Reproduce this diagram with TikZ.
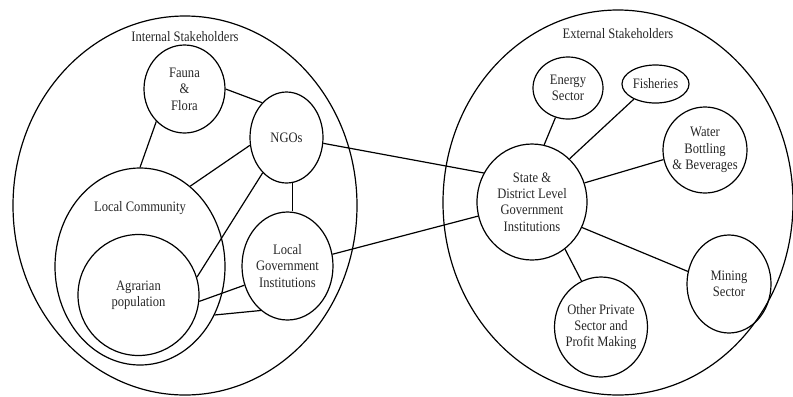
\documentclass[tikz,border=0pt]{standalone}
\usepackage{fontspec}
\setmainfont{Liberation Serif}[FakeStretch=0.87]
\usepackage{tikz}
\usetikzlibrary{shapes.geometric}

\begin{document}
\begin{tikzpicture}[x=1bp, y=-1bp,
  blob/.style={draw, ellipse, line width=1.2pt, inner sep=0pt, align=center, font=\fontsize{14.5}{16.5}\selectfont, text=black!85},
  grp/.style={draw, ellipse, line width=1.2pt, inner sep=0pt},
  lbl/.style={inner sep=0pt, font=\fontsize{14.5}{16.5}\selectfont, text=black!85},
  link/.style={line width=1.2pt}]
\useasboundingbox (0,0) rectangle (793,396);
% the two groups
\node[grp, minimum width=344bp, minimum height=379bp, label={[lbl, label distance=-26bp]90:Internal Stakeholders}] (intl) at (185,205.5) {};
\node[grp, minimum width=350bp, minimum height=385bp, label={[lbl, label distance=-29bp]90:External Stakeholders}] (extl) at (618,202.5) {};
% internal side
\node[blob, minimum width=81bp, minimum height=88bp] (fauna) at (184.5,89) {Fauna\\\&\\Flora};
\node[blob, minimum width=73bp, minimum height=91bp] (ngo) at (286.5,137.5) {NGOs};
\node[grp, minimum width=170bp, minimum height=197bp, label={[lbl, label distance=-47bp]90:Local Community}] (comm) at (140,266.5) {};
\node[blob, minimum size=121bp] (agr) at (138.5,295) {Agrarian\\population};
\node[blob, minimum width=91bp, minimum height=108bp] (lgi) at (287.5,266) {Local\\Government\\Institutions};
% external side
\node[blob, minimum width=110bp, minimum height=116bp] (state) at (532,202) {State \&\\District Level\\Government\\Institutions};
\node[blob, minimum width=70bp, minimum height=62bp] (energy) at (568,88) {Energy\\Sector};
\node[blob, minimum width=67bp, minimum height=38bp, inner xsep=-2bp] (fish) at (655.5,84) {Fisheries};
\node[blob, minimum width=84bp, minimum height=86bp, inner xsep=-5bp] (water) at (705,150) {Water\\Bottling\\\& Beverages};
\node[blob, minimum width=84bp, minimum height=98bp] (mining) at (729,284) {Mining\\Sector};
\node[blob, minimum width=93bp, minimum height=100bp, inner xsep=-5bp] (other) at (601,327) {Other Private\\Sector and\\Profit Making};
% links
\draw[link] (fauna.229) -- (comm.north);
\draw[link] (fauna.east) -- (ngo.125);
\draw[link] (ngo.192) -- (comm.58);
\draw[link] (ngo.236) -- (agr.17);
\draw[link] (ngo.-82) -- (ngo.-82 |- lgi.north);
\draw[link] (ngo.-9) -- (state.149);
\draw[link] (lgi) -- (state);
\draw[link] (agr.-6) -- (lgi.204);
\draw[link] (comm.-33) -- (lgi.239);
\draw[link] (state.78) -- (energy.247);
\draw[link] (state.49) -- (fish.215);
\draw[link] (state.20) -- (water.193);
\draw[link] (state.-27) -- (mining.163);
\draw[link] (state.-55) -- (other.113);
\end{tikzpicture}
\end{document}
